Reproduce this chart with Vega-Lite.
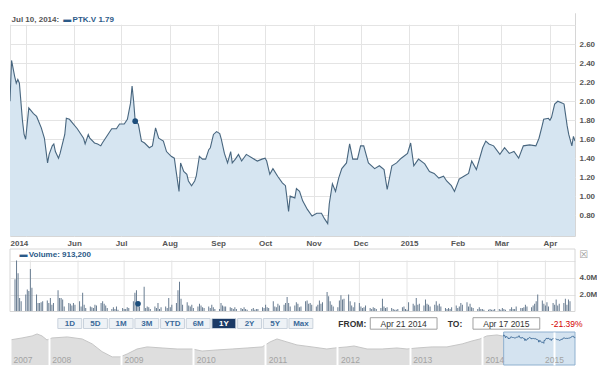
{
"$schema": "https://vega.github.io/schema/vega-lite/v6.json",
"padding": {"left": 8, "top": 12, "right": 0, "bottom": 0},
"autosize": {"type": "pad"},
"background": "white",
"config": {
 "view": {"stroke": "#d6d6d6"},
 "axis": {"labelFont": "Liberation Sans", "labelFontSize": 8, "labelFontWeight": "bold", "labelColor": "#555555", "gridColor": "#e4e4e4", "ticks": false, "domain": false, "labelOverlap": false},
 "text": {"font": "Liberation Sans"}
},
"datasets": {
"price": [
{"d":"2014-04-21","p":2.00},{"d":"2014-04-22","p":2.43},{"d":"2014-04-24","p":2.26},{"d":"2014-04-25","p":2.19},{"d":"2014-04-26","p":2.23},{"d":"2014-04-27","p":2.19},{"d":"2014-04-29","p":1.79},{"d":"2014-04-30","p":1.65},{"d":"2014-05-01","p":1.60},{"d":"2014-05-03","p":1.93},{"d":"2014-05-06","p":1.87},{"d":"2014-05-08","p":1.84},{"d":"2014-05-11","p":1.72},{"d":"2014-05-13","p":1.61},{"d":"2014-05-15","p":1.35},{"d":"2014-05-16","p":1.44},{"d":"2014-05-18","p":1.53},{"d":"2014-05-19","p":1.55},{"d":"2014-05-20","p":1.47},{"d":"2014-05-22","p":1.40},{"d":"2014-05-23","p":1.45},{"d":"2014-05-26","p":1.65},{"d":"2014-05-27","p":1.82},{"d":"2014-05-29","p":1.81},{"d":"2014-05-31","p":1.77},
{"d":"2014-06-03","p":1.71},{"d":"2014-06-05","p":1.66},{"d":"2014-06-07","p":1.61},{"d":"2014-06-08","p":1.55},{"d":"2014-06-10","p":1.65},{"d":"2014-06-11","p":1.61},{"d":"2014-06-14","p":1.56},{"d":"2014-06-16","p":1.55},{"d":"2014-06-18","p":1.53},{"d":"2014-06-19","p":1.56},{"d":"2014-06-21","p":1.61},{"d":"2014-06-23","p":1.66},{"d":"2014-06-25","p":1.71},{"d":"2014-06-28","p":1.71},{"d":"2014-06-30","p":1.76},
{"d":"2014-07-03","p":1.76},{"d":"2014-07-05","p":1.81},{"d":"2014-07-07","p":1.98},{"d":"2014-07-08","p":2.16},{"d":"2014-07-09","p":2.00},{"d":"2014-07-10","p":1.79},{"d":"2014-07-12","p":1.76},{"d":"2014-07-14","p":1.58},{"d":"2014-07-16","p":1.56},{"d":"2014-07-19","p":1.51},{"d":"2014-07-21","p":1.53},{"d":"2014-07-23","p":1.72},{"d":"2014-07-25","p":1.61},{"d":"2014-07-28","p":1.58},{"d":"2014-07-30","p":1.47},
{"d":"2014-08-02","p":1.42},{"d":"2014-08-04","p":1.40},{"d":"2014-08-05","p":1.28},{"d":"2014-08-07","p":1.05},{"d":"2014-08-08","p":1.35},{"d":"2014-08-10","p":1.26},{"d":"2014-08-12","p":1.23},{"d":"2014-08-13","p":1.16},{"d":"2014-08-15","p":1.11},{"d":"2014-08-17","p":1.16},{"d":"2014-08-18","p":1.21},{"d":"2014-08-20","p":1.42},{"d":"2014-08-22","p":1.39},{"d":"2014-08-24","p":1.39},{"d":"2014-08-26","p":1.49},{"d":"2014-08-27","p":1.51},{"d":"2014-08-29","p":1.65},{"d":"2014-08-31","p":1.68},
{"d":"2014-09-02","p":1.66},{"d":"2014-09-03","p":1.60},{"d":"2014-09-05","p":1.45},{"d":"2014-09-07","p":1.35},{"d":"2014-09-09","p":1.47},{"d":"2014-09-10","p":1.35},{"d":"2014-09-12","p":1.39},{"d":"2014-09-14","p":1.44},{"d":"2014-09-16","p":1.37},{"d":"2014-09-19","p":1.44},{"d":"2014-09-23","p":1.40},{"d":"2014-09-26","p":1.37},{"d":"2014-09-29","p":1.39},
{"d":"2014-10-01","p":1.40},{"d":"2014-10-02","p":1.37},{"d":"2014-10-04","p":1.23},{"d":"2014-10-06","p":1.29},{"d":"2014-10-09","p":1.21},{"d":"2014-10-12","p":1.14},{"d":"2014-10-14","p":1.11},{"d":"2014-10-16","p":0.84},{"d":"2014-10-17","p":1.00},{"d":"2014-10-20","p":0.98},{"d":"2014-10-21","p":1.08},{"d":"2014-10-23","p":1.05},{"d":"2014-10-25","p":0.95},{"d":"2014-10-28","p":0.86},{"d":"2014-10-31","p":0.79},
{"d":"2014-11-03","p":0.82},{"d":"2014-11-06","p":0.82},{"d":"2014-11-08","p":0.76},{"d":"2014-11-10","p":0.71},{"d":"2014-11-11","p":0.92},{"d":"2014-11-13","p":1.13},{"d":"2014-11-15","p":1.05},{"d":"2014-11-17","p":1.19},{"d":"2014-11-19","p":1.29},{"d":"2014-11-22","p":1.35},{"d":"2014-11-24","p":1.55},{"d":"2014-11-26","p":1.39},{"d":"2014-11-29","p":1.39},
{"d":"2014-12-01","p":1.53},{"d":"2014-12-03","p":1.53},{"d":"2014-12-06","p":1.35},{"d":"2014-12-10","p":1.29},{"d":"2014-12-13","p":1.32},{"d":"2014-12-16","p":1.28},{"d":"2014-12-18","p":1.07},{"d":"2014-12-21","p":1.32},{"d":"2014-12-24","p":1.35},{"d":"2014-12-27","p":1.40},{"d":"2014-12-31","p":1.45},
{"d":"2015-01-02","p":1.56},{"d":"2015-01-04","p":1.32},{"d":"2015-01-07","p":1.39},{"d":"2015-01-11","p":1.34},{"d":"2015-01-14","p":1.26},{"d":"2015-01-17","p":1.24},{"d":"2015-01-20","p":1.19},{"d":"2015-01-23","p":1.21},{"d":"2015-01-25","p":1.16},{"d":"2015-01-28","p":1.11},{"d":"2015-01-30","p":1.05},
{"d":"2015-02-02","p":1.18},{"d":"2015-02-05","p":1.21},{"d":"2015-02-08","p":1.24},{"d":"2015-02-10","p":1.37},{"d":"2015-02-13","p":1.28},{"d":"2015-02-17","p":1.51},{"d":"2015-02-19","p":1.58},{"d":"2015-02-21","p":1.55},{"d":"2015-02-24","p":1.53},{"d":"2015-02-28","p":1.44},
{"d":"2015-03-03","p":1.51},{"d":"2015-03-06","p":1.45},{"d":"2015-03-09","p":1.47},{"d":"2015-03-12","p":1.40},{"d":"2015-03-15","p":1.53},{"d":"2015-03-19","p":1.54},{"d":"2015-03-23","p":1.53},{"d":"2015-03-25","p":1.61},{"d":"2015-03-27","p":1.74},{"d":"2015-03-28","p":1.81},{"d":"2015-03-31","p":1.82},
{"d":"2015-04-01","p":1.80},{"d":"2015-04-02","p":1.83},{"d":"2015-04-04","p":1.97},{"d":"2015-04-06","p":2.00},{"d":"2015-04-09","p":1.98},{"d":"2015-04-10","p":1.97},{"d":"2015-04-12","p":1.74},{"d":"2015-04-13","p":1.65},{"d":"2015-04-15","p":1.53},{"d":"2015-04-16","p":1.63},{"d":"2015-04-17","p":1.58}
],
"vol": [
{"d":"2014-04-21","v":3.8},{"d":"2014-04-22","v":6.0},{"d":"2014-04-23","v":4.5},{"d":"2014-04-24","v":1.6},{"d":"2014-04-25","v":1.2},
{"d":"2014-04-28","v":2.0},{"d":"2014-04-29","v":2.6},{"d":"2014-04-30","v":2.4},{"d":"2014-05-01","v":5.0},{"d":"2014-05-02","v":2.8},
{"d":"2014-05-05","v":2.0},{"d":"2014-05-06","v":1.0},{"d":"2014-05-07","v":1.0},{"d":"2014-05-08","v":1.1},{"d":"2014-05-09","v":1.2},
{"d":"2014-05-12","v":1.3},{"d":"2014-05-13","v":1.0},{"d":"2014-05-14","v":1.6},{"d":"2014-05-15","v":0.8},{"d":"2014-05-16","v":1.0},
{"d":"2014-05-19","v":2.5},{"d":"2014-05-20","v":1.6},{"d":"2014-05-21","v":1.6},{"d":"2014-05-22","v":1.4},{"d":"2014-05-23","v":0.6},
{"d":"2014-05-26","v":1.0},{"d":"2014-05-27","v":0.9},{"d":"2014-05-28","v":0.7},{"d":"2014-05-29","v":1.0},{"d":"2014-05-30","v":0.8},
{"d":"2014-06-02","v":1.2},{"d":"2014-06-03","v":0.6},{"d":"2014-06-04","v":2.2},{"d":"2014-06-05","v":0.8},{"d":"2014-06-06","v":0.4},
{"d":"2014-06-09","v":0.6},{"d":"2014-06-10","v":0.5},{"d":"2014-06-11","v":0.4},{"d":"2014-06-12","v":0.8},{"d":"2014-06-13","v":0.7},
{"d":"2014-06-16","v":1.0},{"d":"2014-06-17","v":1.2},{"d":"2014-06-18","v":0.9},{"d":"2014-06-19","v":0.7},{"d":"2014-06-20","v":0.4},
{"d":"2014-06-23","v":0.3},{"d":"2014-06-24","v":0.5},{"d":"2014-06-25","v":0.3},{"d":"2014-06-26","v":0.6},{"d":"2014-06-27","v":0.2},
{"d":"2014-06-30","v":0.4},{"d":"2014-07-01","v":0.3},{"d":"2014-07-02","v":0.3},{"d":"2014-07-03","v":0.5},{"d":"2014-07-04","v":0.4},
{"d":"2014-07-07","v":1.2},{"d":"2014-07-08","v":2.2},{"d":"2014-07-09","v":2.5},{"d":"2014-07-10","v":0.91},{"d":"2014-07-11","v":0.6},
{"d":"2014-07-14","v":2.9},{"d":"2014-07-15","v":0.4},{"d":"2014-07-16","v":0.6},{"d":"2014-07-17","v":0.5},{"d":"2014-07-18","v":0.3},
{"d":"2014-07-21","v":0.6},{"d":"2014-07-22","v":0.4},{"d":"2014-07-23","v":1.0},{"d":"2014-07-24","v":0.3},{"d":"2014-07-25","v":0.5},
{"d":"2014-07-28","v":0.6},{"d":"2014-07-29","v":0.4},{"d":"2014-07-30","v":1.6},{"d":"2014-07-31","v":0.5},{"d":"2014-08-01","v":0.8},
{"d":"2014-08-04","v":1.0},{"d":"2014-08-05","v":2.5},{"d":"2014-08-06","v":3.5},{"d":"2014-08-07","v":1.5},{"d":"2014-08-08","v":0.8},
{"d":"2014-08-11","v":1.1},{"d":"2014-08-12","v":0.7},{"d":"2014-08-13","v":0.6},{"d":"2014-08-14","v":0.8},{"d":"2014-08-15","v":0.4},
{"d":"2014-08-18","v":0.6},{"d":"2014-08-19","v":0.9},{"d":"2014-08-20","v":0.7},{"d":"2014-08-21","v":0.5},{"d":"2014-08-22","v":0.4},
{"d":"2014-08-25","v":0.6},{"d":"2014-08-26","v":0.4},{"d":"2014-08-27","v":0.8},{"d":"2014-08-28","v":0.5},{"d":"2014-08-29","v":0.3},
{"d":"2014-09-01","v":0.3},{"d":"2014-09-02","v":1.0},{"d":"2014-09-03","v":0.7},{"d":"2014-09-04","v":0.6},{"d":"2014-09-05","v":0.6},
{"d":"2014-09-08","v":0.5},{"d":"2014-09-09","v":0.4},{"d":"2014-09-10","v":0.3},{"d":"2014-09-11","v":0.5},{"d":"2014-09-12","v":0.3},
{"d":"2014-09-15","v":0.4},{"d":"2014-09-16","v":0.3},{"d":"2014-09-17","v":0.5},{"d":"2014-09-18","v":0.3},{"d":"2014-09-19","v":0.2},
{"d":"2014-09-22","v":0.3},{"d":"2014-09-23","v":0.4},{"d":"2014-09-24","v":0.2},{"d":"2014-09-25","v":0.3},{"d":"2014-09-26","v":0.3},
{"d":"2014-09-29","v":0.5},{"d":"2014-09-30","v":0.4},{"d":"2014-10-01","v":0.8},{"d":"2014-10-02","v":0.5},{"d":"2014-10-03","v":0.4},
{"d":"2014-10-06","v":1.2},{"d":"2014-10-07","v":0.6},{"d":"2014-10-08","v":0.5},{"d":"2014-10-09","v":0.9},{"d":"2014-10-10","v":0.7},
{"d":"2014-10-13","v":0.8},{"d":"2014-10-14","v":1.0},{"d":"2014-10-15","v":1.7},{"d":"2014-10-16","v":1.0},{"d":"2014-10-17","v":0.6},
{"d":"2014-10-20","v":0.7},{"d":"2014-10-21","v":1.1},{"d":"2014-10-22","v":0.9},{"d":"2014-10-23","v":0.5},{"d":"2014-10-24","v":0.6},
{"d":"2014-10-27","v":1.2},{"d":"2014-10-28","v":1.3},{"d":"2014-10-29","v":0.9},{"d":"2014-10-30","v":1.0},{"d":"2014-10-31","v":0.8},
{"d":"2014-11-03","v":0.6},{"d":"2014-11-04","v":0.8},{"d":"2014-11-05","v":1.3},{"d":"2014-11-06","v":0.9},{"d":"2014-11-07","v":1.1},
{"d":"2014-11-10","v":2.3},{"d":"2014-11-11","v":1.8},{"d":"2014-11-12","v":1.2},{"d":"2014-11-13","v":0.8},{"d":"2014-11-14","v":0.6},
{"d":"2014-11-17","v":0.5},{"d":"2014-11-18","v":1.3},{"d":"2014-11-19","v":1.9},{"d":"2014-11-20","v":1.4},{"d":"2014-11-21","v":1.5},
{"d":"2014-11-24","v":2.0},{"d":"2014-11-25","v":1.2},{"d":"2014-11-26","v":0.7},{"d":"2014-11-27","v":0.5},{"d":"2014-11-28","v":1.1},
{"d":"2014-12-01","v":1.0},{"d":"2014-12-02","v":0.6},{"d":"2014-12-03","v":0.4},{"d":"2014-12-04","v":0.5},{"d":"2014-12-05","v":0.7},
{"d":"2014-12-08","v":0.4},{"d":"2014-12-09","v":0.3},{"d":"2014-12-10","v":0.5},{"d":"2014-12-11","v":0.4},{"d":"2014-12-12","v":0.3},
{"d":"2014-12-15","v":0.4},{"d":"2014-12-16","v":1.5},{"d":"2014-12-17","v":0.6},{"d":"2014-12-18","v":0.4},{"d":"2014-12-19","v":0.5},
{"d":"2014-12-22","v":0.4},{"d":"2014-12-23","v":0.3},{"d":"2014-12-24","v":0.2},{"d":"2014-12-25","v":0.2},{"d":"2014-12-26","v":0.3},
{"d":"2014-12-29","v":0.5},{"d":"2014-12-30","v":0.6},{"d":"2014-12-31","v":0.3},{"d":"2015-01-01","v":0.2},{"d":"2015-01-02","v":1.1},
{"d":"2015-01-05","v":0.9},{"d":"2015-01-06","v":0.7},{"d":"2015-01-07","v":1.6},{"d":"2015-01-08","v":0.8},{"d":"2015-01-09","v":0.9},
{"d":"2015-01-12","v":0.7},{"d":"2015-01-13","v":1.4},{"d":"2015-01-14","v":0.9},{"d":"2015-01-15","v":0.8},{"d":"2015-01-16","v":0.6},
{"d":"2015-01-19","v":0.8},{"d":"2015-01-20","v":1.2},{"d":"2015-01-21","v":0.7},{"d":"2015-01-22","v":0.9},{"d":"2015-01-23","v":0.6},
{"d":"2015-01-26","v":0.4},{"d":"2015-01-27","v":0.3},{"d":"2015-01-28","v":0.4},{"d":"2015-01-29","v":0.3},{"d":"2015-01-30","v":0.5},
{"d":"2015-02-02","v":0.7},{"d":"2015-02-03","v":0.4},{"d":"2015-02-04","v":0.6},{"d":"2015-02-05","v":1.0},{"d":"2015-02-06","v":0.8},
{"d":"2015-02-09","v":1.1},{"d":"2015-02-10","v":0.6},{"d":"2015-02-11","v":0.9},{"d":"2015-02-12","v":0.5},{"d":"2015-02-13","v":0.4},
{"d":"2015-02-16","v":0.3},{"d":"2015-02-17","v":0.5},{"d":"2015-02-18","v":0.3},{"d":"2015-02-19","v":0.3},{"d":"2015-02-20","v":0.2},
{"d":"2015-02-23","v":0.2},{"d":"2015-02-24","v":0.3},{"d":"2015-02-25","v":0.2},{"d":"2015-02-26","v":0.2},{"d":"2015-02-27","v":0.3},
{"d":"2015-03-02","v":0.3},{"d":"2015-03-03","v":0.2},{"d":"2015-03-04","v":0.4},{"d":"2015-03-05","v":0.3},{"d":"2015-03-06","v":0.2},
{"d":"2015-03-09","v":0.3},{"d":"2015-03-10","v":0.5},{"d":"2015-03-11","v":0.3},{"d":"2015-03-12","v":0.3},{"d":"2015-03-13","v":0.6},
{"d":"2015-03-16","v":0.4},{"d":"2015-03-17","v":0.4},{"d":"2015-03-18","v":0.5},{"d":"2015-03-19","v":0.8},{"d":"2015-03-20","v":0.6},
{"d":"2015-03-23","v":0.5},{"d":"2015-03-24","v":0.7},{"d":"2015-03-25","v":0.9},{"d":"2015-03-26","v":1.2},{"d":"2015-03-27","v":2.0},
{"d":"2015-03-30","v":1.3},{"d":"2015-03-31","v":0.9},{"d":"2015-04-01","v":0.7},{"d":"2015-04-02","v":1.1},{"d":"2015-04-03","v":0.6},
{"d":"2015-04-06","v":1.0},{"d":"2015-04-07","v":0.8},{"d":"2015-04-08","v":1.4},{"d":"2015-04-09","v":0.7},{"d":"2015-04-10","v":0.9},
{"d":"2015-04-13","v":1.0},{"d":"2015-04-14","v":1.5},{"d":"2015-04-15","v":0.8},{"d":"2015-04-16","v":1.4},{"d":"2015-04-17","v":1.2}
],
"months": [
{"d":"2014-05-01"},{"d":"2014-06-01"},{"d":"2014-07-01"},{"d":"2014-08-01"},{"d":"2014-09-01"},{"d":"2014-10-01"},{"d":"2014-11-01"},{"d":"2014-12-01"},{"d":"2015-01-01"},{"d":"2015-02-01"},{"d":"2015-03-01"},{"d":"2015-04-01"}
],
"nav": [
{"d":"2007-06-19","p":1.16},{"d":"2007-08-19","p":1.55},{"d":"2007-10-09","p":2.08},{"d":"2007-11-03","p":2.78},{"d":"2007-11-28","p":2.08},{"d":"2007-12-23","p":1.16},
{"d":"2008-01-18","p":1.55},{"d":"2008-04-04","p":1.8},{"d":"2008-06-18","p":1.34},{"d":"2008-08-08","p":0.65},{"d":"2008-09-27","p":0.21},{"d":"2008-11-17","p":0.098},{"d":"2008-12-27","p":0.098},
{"d":"2009-02-01","p":0.15},{"d":"2009-03-23","p":0.31},{"d":"2009-05-13","p":0.42},{"d":"2009-07-28","p":0.36},{"d":"2009-10-12","p":0.31},{"d":"2009-12-27","p":0.31},
{"d":"2010-02-15","p":0.23},{"d":"2010-05-02","p":0.27},{"d":"2010-07-17","p":0.31},{"d":"2010-10-01","p":0.36},{"d":"2010-12-16","p":0.42},
{"d":"2011-01-25","p":0.87},{"d":"2011-03-01","p":1.34},{"d":"2011-04-20","p":0.87},{"d":"2011-06-10","p":0.56},{"d":"2011-08-25","p":0.42},{"d":"2011-11-08","p":0.31},{"d":"2011-12-18","p":0.36},
{"d":"2012-02-18","p":0.42},{"d":"2012-03-25","p":0.48},{"d":"2012-05-30","p":0.31},{"d":"2012-08-14","p":0.31},{"d":"2012-10-28","p":0.36},{"d":"2012-12-18","p":0.31},
{"d":"2013-02-07","p":0.36},{"d":"2013-04-24","p":0.42},{"d":"2013-07-08","p":0.42},{"d":"2013-09-23","p":0.65},{"d":"2013-11-12","p":1.0},{"d":"2013-12-22","p":1.34},
{"d":"2014-01-26","p":2.08},{"d":"2014-03-18","p":2.4},{"d":"2014-04-21","p":2.0},{"d":"2014-06-01","p":1.75},{"d":"2014-07-08","p":2.16},{"d":"2014-08-07","p":1.05},{"d":"2014-09-01","p":1.66},{"d":"2014-10-01","p":1.40},{"d":"2014-11-10","p":0.71},{"d":"2014-12-01","p":1.53},{"d":"2015-01-02","p":1.56},{"d":"2015-02-01","p":1.10},{"d":"2015-03-01","p":1.45},{"d":"2015-04-06","p":2.0},{"d":"2015-04-17","p":1.58}
],
"ctrl": [
{"slot":0,"t":"1D"},{"slot":1,"t":"5D"},{"slot":2,"t":"1M"},{"slot":3,"t":"3M"},{"slot":4,"t":"YTD"},{"slot":5,"t":"6M"},{"slot":6,"t":"1Y"},{"slot":7,"t":"2Y"},{"slot":8,"t":"5Y"},{"slot":9,"t":"Max"},
{"slot":11,"t":"FROM:"},{"slot":13,"t":"Apr 21 2014"},{"slot":15,"t":"TO:"},{"slot":17,"t":"Apr 17 2015"},{"slot":19,"t":"-21.39%"}
]
},
"bounds": "flush",
"spacing": 3,
"vconcat": [
 {
  "width": 565, "height": 223,
  "layer": [
   {
    "data": {"name": "price"},
    "mark": {"type": "area", "color": "#d6e5f1", "opacity": 1, "line": {"color": "#48667f", "strokeWidth": 1.1}, "clip": true},
    "encoding": {
     "x": {"field": "d", "type": "temporal",
       "scale": {"type": "utc", "domain": [{"year":2014,"month":4,"date":21,"utc":true},{"year":2015,"month":4,"date":17,"utc":true}]},
       "axis": {"title": null, "tickCount": 30, "values": [{"year":2014,"month":4,"date":21,"utc":true},{"year":2014,"month":5,"date":1,"utc":true},{"year":2014,"month":6,"date":1,"utc":true},{"year":2014,"month":7,"date":1,"utc":true},{"year":2014,"month":8,"date":1,"utc":true},{"year":2014,"month":9,"date":1,"utc":true},{"year":2014,"month":10,"date":1,"utc":true},{"year":2014,"month":11,"date":1,"utc":true},{"year":2014,"month":12,"date":1,"utc":true},{"year":2015,"month":1,"date":1,"utc":true},{"year":2015,"month":2,"date":1,"utc":true},{"year":2015,"month":3,"date":1,"utc":true},{"year":2015,"month":4,"date":1,"utc":true}],
         "labelExpr": "utcdate(datum.value)==21 ? '2014' : utcmonth(datum.value)==4 ? '' : utcmonth(datum.value)==0 ? utcFormat(datum.value,'%Y') : utcFormat(datum.value,'%b')",
         "grid": true, "labelFlush": true, "labelPadding": 3, "labelOverlap": false}},
     "y": {"field": "p", "type": "quantitative",
       "scale": {"domain": [0.58, 2.93], "zero": false, "nice": false},
       "axis": {"title": null, "orient": "right", "tickCount": 30, "values": [0.8,1.0,1.2,1.4,1.6,1.8,2.0,2.2,2.4,2.6,2.8],
         "labelExpr": "datum.value > 2.7 ? '' : format(datum.value, '.2f')", "labelPadding": 4, "grid": true, "labelOverlap": false}}
    }
   },
   {
    "data": {"values": [{}]},
    "mark": {"type": "rect", "color": "white"},
    "encoding": {"y": {"datum": 2.806}, "y2": {"datum": 2.93}}
   },
   {
    "data": {"values": [{"d": "2014-04-22", "p": 2.86, "t": "Jul 10, 2014:"}]},
    "mark": {"type": "text", "align": "left", "baseline": "middle", "fontSize": 8, "fontWeight": "bold", "color": "#555555"},
    "encoding": {"x": {"field": "d", "type": "temporal"}, "y": {"field": "p", "type": "quantitative"}, "text": {"field": "t"}}
   },
   {
    "data": {"values": [{"d": "2014-05-25", "p": 2.86, "t": "▬"}, {"d": "2014-05-31", "p": 2.86, "t": "PTK.V 1.79"}]},
    "mark": {"type": "text", "align": "left", "baseline": "middle", "fontSize": 8, "fontWeight": "bold", "color": "#2b5a88"},
    "encoding": {"x": {"field": "d", "type": "temporal"}, "y": {"field": "p", "type": "quantitative"}, "text": {"field": "t"}}
   },
   {
    "data": {"values": [{"d": "2014-07-10", "p": 1.79}]},
    "mark": {"type": "circle", "size": 32, "color": "#1d4e7c", "opacity": 1},
    "encoding": {"x": {"field": "d", "type": "temporal"}, "y": {"field": "p", "type": "quantitative"}}
   }
  ]
 },
 {
  "width": 565, "height": 72.5,
  "view": {"stroke": null},
  "layer": [
   {
    "data": {"name": "months"},
    "mark": {"type": "rule", "color": "#e4e4e4", "strokeWidth": 1},
    "encoding": {
     "x": {"field": "d", "type": "temporal",
       "scale": {"type": "utc", "domain": [{"year":2014,"month":4,"date":21,"utc":true},{"year":2015,"month":4,"date":17,"utc":true}]},
       "axis": null},
     "y": {"datum": 0, "type": "quantitative", "scale": {"domain": [0, 8.53], "nice": false},
       "axis": {"title": null, "orient": "right", "tickCount": 30, "values": [2, 4, 6], "labelExpr": "datum.value > 5 ? '' : format(datum.value, '.1f') + 'M'", "labelPadding": 4, "grid": true, "labelOverlap": false}},
     "y2": {"datum": 6}
    }
   },
   {
    "data": {"name": "vol"},
    "mark": {"type": "bar", "width": 1, "color": "#687c91"},
    "encoding": {
     "x": {"field": "d", "type": "temporal"},
     "y": {"field": "v", "type": "quantitative"}
    }
   },
   {
    "data": {"values": [{}]},
    "mark": {"type": "rect", "fill": "white", "fillOpacity": 0, "stroke": "#d6d6d6", "strokeWidth": 1},
    "encoding": {"y": {"datum": 0}, "y2": {"datum": 7.35}}
   },
   {
    "data": {"values": [{"d": "2014-04-24", "v": 6.65, "t": "▬"}, {"d": "2014-04-30", "v": 6.65, "t": "Volume: 913,200"}]},
    "mark": {"type": "text", "align": "left", "baseline": "middle", "fontSize": 8, "fontWeight": "bold", "color": "#2b5a88"},
    "encoding": {"x": {"field": "d", "type": "temporal"}, "y": {"field": "v", "type": "quantitative"}, "text": {"field": "t"}}
   },
   {
    "data": {"values": [{"d": "2015-04-26", "v": 6.65, "t": "☒"}]},
    "mark": {"type": "text", "align": "center", "baseline": "middle", "fontSize": 10, "font": "DejaVu Sans", "color": "#9a9a9a"},
    "encoding": {"x": {"field": "d", "type": "temporal"}, "y": {"field": "v", "type": "quantitative"}, "text": {"field": "t"}}
   },
   {
    "data": {"values": [{"d": "2014-07-10", "v": 0.91}]},
    "mark": {"type": "circle", "size": 32, "color": "#1d4e7c", "opacity": 1},
    "encoding": {"x": {"field": "d", "type": "temporal"}, "y": {"field": "v", "type": "quantitative"}}
   }
  ]
 },
 {
  "width": 565, "height": 13.5,
  "view": {"stroke": null},
  "data": {"name": "ctrl"},
  "encoding": {"x": {"field": "slot", "type": "ordinal", "scale": {"type": "band", "domain": [0,1,2,3,4,5,6,7,8,9,10,11,12,13,14,15,16,17,18,19], "paddingOuter": 4.71, "paddingInner": 0, "align": 0.914}, "axis": null}},
  "layer": [
   {
    "transform": [{"filter": "datum.slot <= 9"}],
    "mark": {"type": "bar", "width": {"band": 0.93}, "stroke": "#c9d2dc", "strokeWidth": 1},
    "encoding": {
     "y": {"datum": 0, "type": "quantitative", "scale": {"domain": [0, 1], "nice": false}, "axis": null},
     "y2": {"datum": 0.74},
     "color": {"condition": {"test": "datum.t == '1Y'", "value": "#1b3a66"}, "value": "#eef2f6"}}
   },
   {
    "transform": [{"filter": "datum.slot <= 9"}],
    "mark": {"type": "text", "fontSize": 8, "fontWeight": "bold", "baseline": "middle"},
    "encoding": {"y": {"datum": 0.37, "type": "quantitative"}, "text": {"field": "t"}, "color": {"condition": {"test": "datum.t == '1Y'", "value": "white"}, "value": "#3b6a9a"}}
   },
   {
    "transform": [{"filter": "datum.slot == 13 || datum.slot == 17"}],
    "mark": {"type": "bar", "width": {"band": 2.6}, "color": "white", "stroke": "#a0a0a0", "strokeWidth": 1},
    "encoding": {"y": {"datum": -0.05, "type": "quantitative"}, "y2": {"datum": 0.8}}
   },
   {
    "transform": [{"filter": "datum.slot == 13 || datum.slot == 17"}],
    "mark": {"type": "text", "fontSize": 8.5, "baseline": "middle", "color": "#333333"},
    "encoding": {"y": {"datum": 0.37, "type": "quantitative"}, "text": {"field": "t"}}
   },
   {
    "transform": [{"filter": "datum.slot == 11 || datum.slot == 15"}],
    "mark": {"type": "text", "fontSize": 8.5, "fontWeight": "bold", "baseline": "middle", "color": "#333333"},
    "encoding": {"y": {"datum": 0.37, "type": "quantitative"}, "text": {"field": "t"}}
   },
   {
    "transform": [{"filter": "datum.slot == 19"}],
    "mark": {"type": "text", "fontSize": 8.5, "baseline": "middle", "color": "#d40000", "dx": 9},
    "encoding": {"y": {"datum": 0.37, "type": "quantitative"}, "text": {"field": "t"}}
   }
  ]
 },
 {
  "width": 565, "height": 33,
  "view": {"stroke": null},
  "layer": [
   {
    "data": {"name": "nav"},
    "mark": {"type": "area", "color": "#dedede", "opacity": 1, "line": {"color": "#c6c6c6", "strokeWidth": 1}},
    "encoding": {
     "x": {"field": "d", "type": "temporal",
       "scale": {"type": "utc", "domain": [{"year":2007,"month":6,"date":19,"utc":true},{"year":2015,"month":4,"date":17,"utc":true}]},
       "axis": {"title": null, "tickCount": 30, "values": [{"year":2007,"month":6,"date":19,"utc":true},{"year":2008,"month":1,"date":1,"utc":true},{"year":2009,"month":1,"date":1,"utc":true},{"year":2010,"month":1,"date":1,"utc":true},{"year":2011,"month":1,"date":1,"utc":true},{"year":2012,"month":1,"date":1,"utc":true},{"year":2013,"month":1,"date":1,"utc":true},{"year":2014,"month":1,"date":1,"utc":true},{"year":2015,"month":1,"date":1,"utc":true}],
         "labelExpr": "utcFormat(datum.value, '%Y')", "grid": true, "gridColor": "white", "gridWidth": 2, "zindex": 1,
         "labelAlign": {"condition": {"test": "utcyear(datum.value) == 2015", "value": "center"}, "value": "left"},
         "labelOffset": {"condition": {"test": "utcyear(datum.value) == 2015", "value": 0}, "value": 3},
         "labelPadding": -3, "labelBaseline": "alphabetic", "labelColor": "#a3a3a3", "labelFontWeight": "normal", "labelFontSize": 8.5, "labelFlush": false, "labelOverlap": false}},
     "y": {"field": "p", "type": "quantitative", "scale": {"type": "log", "domain": [0.03, 3.7], "nice": false}, "axis": null},
     "y2": {"datum": 0.03}
    }
   },
   {
    "data": {"values": [{}]},
    "mark": {"type": "rect", "fill": "#d4e3f0", "stroke": "#8fb0cf", "strokeWidth": 1},
    "encoding": {"x": {"datum": {"year":2014,"month":4,"date":21,"utc":true}, "type": "temporal"}, "x2": {"datum": {"year":2015,"month":4,"date":17,"utc":true}}}
   },
   {
    "data": {"name": "price"},
    "mark": {"type": "line", "color": "#3f6c99", "strokeWidth": 1},
    "encoding": {"x": {"field": "d", "type": "temporal"}, "y": {"field": "p", "type": "quantitative"}}
   }
  ]
 }
]
}
